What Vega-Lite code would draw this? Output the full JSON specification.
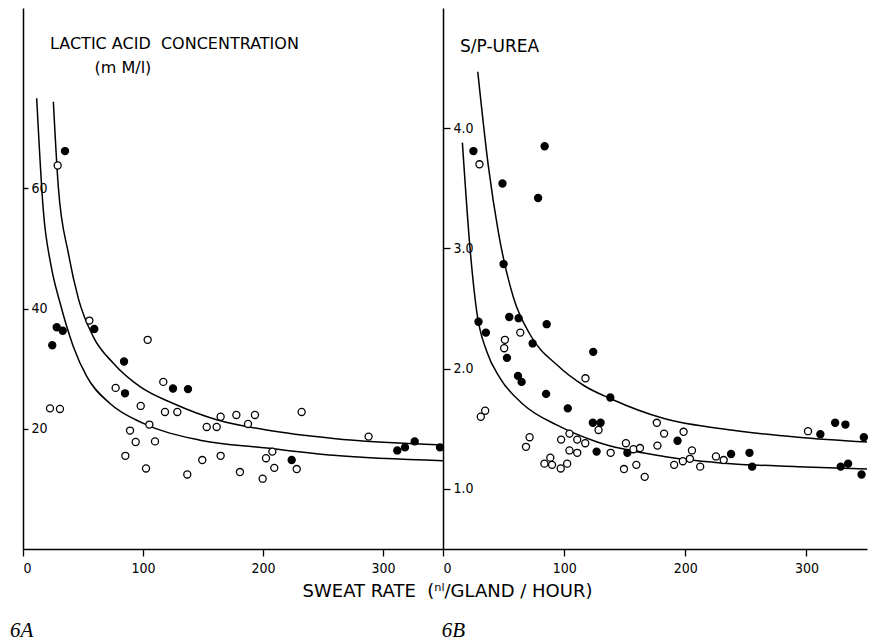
{
  "$schema": "https://vega.github.io/schema/vega-lite/v6.json",
  "background": "white",
  "padding": {"left": 10, "top": 8, "right": 0, "bottom": 0},
  "spacing": 0,
  "bounds": "flush",
  "config": {
    "view": {"stroke": null},
    "font": "DejaVu Sans",
    "axis": {
      "grid": false,
      "domainColor": "black",
      "domainWidth": 1.5,
      "tickColor": "black",
      "tickWidth": 1.3,
      "labelColor": "black",
      "labelFont": "DejaVu Sans Condensed, DejaVu Sans",
      "labelFontSize": 14,
      "titleColor": "black"
    }
  },
  "datasets": {
    "pointsA": [
      {"rate": 35, "value": 66.2, "type": "filled"},
      {"rate": 28.1, "value": 36.9, "type": "filled"},
      {"rate": 33.1, "value": 36.3, "type": "filled"},
      {"rate": 24.4, "value": 33.9, "type": "filled"},
      {"rate": 59.4, "value": 36.6, "type": "filled"},
      {"rate": 84.2, "value": 31.2, "type": "filled"},
      {"rate": 85, "value": 25.9, "type": "filled"},
      {"rate": 125, "value": 26.7, "type": "filled"},
      {"rate": 137.5, "value": 26.6, "type": "filled"},
      {"rate": 223.9, "value": 14.8, "type": "filled"},
      {"rate": 311.9, "value": 16.4, "type": "filled"},
      {"rate": 318.3, "value": 16.9, "type": "filled"},
      {"rate": 326.4, "value": 17.9, "type": "filled"},
      {"rate": 347.5, "value": 16.9, "type": "filled"},
      {"rate": 28.9, "value": 63.8, "type": "open"},
      {"rate": 22.5, "value": 23.4, "type": "open"},
      {"rate": 30.8, "value": 23.3, "type": "open"},
      {"rate": 55.3, "value": 38.0, "type": "open"},
      {"rate": 77.2, "value": 26.8, "type": "open"},
      {"rate": 103.9, "value": 34.8, "type": "open"},
      {"rate": 98.1, "value": 23.8, "type": "open"},
      {"rate": 89.2, "value": 19.7, "type": "open"},
      {"rate": 85.3, "value": 15.5, "type": "open"},
      {"rate": 93.9, "value": 17.8, "type": "open"},
      {"rate": 105.3, "value": 20.7, "type": "open"},
      {"rate": 102.5, "value": 13.4, "type": "open"},
      {"rate": 110, "value": 17.9, "type": "open"},
      {"rate": 116.9, "value": 27.8, "type": "open"},
      {"rate": 118.3, "value": 22.8, "type": "open"},
      {"rate": 128.6, "value": 22.8, "type": "open"},
      {"rate": 136.9, "value": 12.4, "type": "open"},
      {"rate": 149.4, "value": 14.8, "type": "open"},
      {"rate": 153.1, "value": 20.3, "type": "open"},
      {"rate": 161.4, "value": 20.3, "type": "open"},
      {"rate": 164.7, "value": 22.0, "type": "open"},
      {"rate": 164.7, "value": 15.5, "type": "open"},
      {"rate": 177.8, "value": 22.3, "type": "open"},
      {"rate": 180.8, "value": 12.8, "type": "open"},
      {"rate": 187.5, "value": 20.8, "type": "open"},
      {"rate": 193.3, "value": 22.3, "type": "open"},
      {"rate": 199.7, "value": 11.7, "type": "open"},
      {"rate": 202.5, "value": 15.1, "type": "open"},
      {"rate": 207.8, "value": 16.2, "type": "open"},
      {"rate": 209.4, "value": 13.5, "type": "open"},
      {"rate": 228.1, "value": 13.3, "type": "open"},
      {"rate": 232.2, "value": 22.8, "type": "open"},
      {"rate": 288, "value": 18.7, "type": "open"}
    ],
    "curvesA": [
      {"rate": 25.3, "value": 74.4, "curve": "upper"},
      {"rate": 29.4, "value": 60.3, "curve": "upper"},
      {"rate": 37.8, "value": 49.2, "curve": "upper"},
      {"rate": 46.1, "value": 41.7, "curve": "upper"},
      {"rate": 58.6, "value": 35.3, "curve": "upper"},
      {"rate": 75.3, "value": 30.9, "curve": "upper"},
      {"rate": 97.5, "value": 27.0, "curve": "upper"},
      {"rate": 125.3, "value": 24.2, "curve": "upper"},
      {"rate": 161.4, "value": 21.5, "curve": "upper"},
      {"rate": 203, "value": 19.8, "curve": "upper"},
      {"rate": 258.6, "value": 18.4, "curve": "upper"},
      {"rate": 350, "value": 17.3, "curve": "upper"},
      {"rate": 11.4, "value": 75.0, "curve": "lower"},
      {"rate": 16.9, "value": 56.4, "curve": "lower"},
      {"rate": 23.5, "value": 47.0, "curve": "lower"},
      {"rate": 30.8, "value": 41.0, "curve": "lower"},
      {"rate": 41.9, "value": 33.7, "curve": "lower"},
      {"rate": 53.1, "value": 28.7, "curve": "lower"},
      {"rate": 72.5, "value": 24.2, "curve": "lower"},
      {"rate": 100.3, "value": 20.9, "curve": "lower"},
      {"rate": 147.5, "value": 18.1, "curve": "lower"},
      {"rate": 203, "value": 16.8, "curve": "lower"},
      {"rate": 258.6, "value": 15.6, "curve": "lower"},
      {"rate": 350, "value": 14.7, "curve": "lower"}
    ],
    "pointsB": [
      {"rate": 25.1, "value": 3.81, "type": "filled"},
      {"rate": 49.1, "value": 3.54, "type": "filled"},
      {"rate": 78.5, "value": 3.42, "type": "filled"},
      {"rate": 83.9, "value": 3.85, "type": "filled"},
      {"rate": 50.0, "value": 2.87, "type": "filled"},
      {"rate": 29.3, "value": 2.39, "type": "filled"},
      {"rate": 35.4, "value": 2.30, "type": "filled"},
      {"rate": 54.7, "value": 2.43, "type": "filled"},
      {"rate": 62.4, "value": 2.42, "type": "filled"},
      {"rate": 85.6, "value": 2.37, "type": "filled"},
      {"rate": 74.0, "value": 2.21, "type": "filled"},
      {"rate": 124.0, "value": 2.14, "type": "filled"},
      {"rate": 52.8, "value": 2.09, "type": "filled"},
      {"rate": 61.9, "value": 1.94, "type": "filled"},
      {"rate": 64.9, "value": 1.89, "type": "filled"},
      {"rate": 85.1, "value": 1.79, "type": "filled"},
      {"rate": 138.1, "value": 1.76, "type": "filled"},
      {"rate": 103.0, "value": 1.67, "type": "filled"},
      {"rate": 123.7, "value": 1.55, "type": "filled"},
      {"rate": 130.1, "value": 1.55, "type": "filled"},
      {"rate": 126.8, "value": 1.31, "type": "filled"},
      {"rate": 152.2, "value": 1.30, "type": "filled"},
      {"rate": 193.6, "value": 1.40, "type": "filled"},
      {"rate": 237.8, "value": 1.29, "type": "filled"},
      {"rate": 253, "value": 1.30, "type": "filled"},
      {"rate": 255.2, "value": 1.185, "type": "filled"},
      {"rate": 311.5, "value": 1.455, "type": "filled"},
      {"rate": 323.7, "value": 1.55, "type": "filled"},
      {"rate": 332.2, "value": 1.535, "type": "filled"},
      {"rate": 347.4, "value": 1.43, "type": "filled"},
      {"rate": 328.3, "value": 1.185, "type": "filled"},
      {"rate": 334.4, "value": 1.21, "type": "filled"},
      {"rate": 345.5, "value": 1.12, "type": "filled"},
      {"rate": 30.1, "value": 3.70, "type": "open"},
      {"rate": 31.2, "value": 1.60, "type": "open"},
      {"rate": 34.8, "value": 1.65, "type": "open"},
      {"rate": 63.8, "value": 2.30, "type": "open"},
      {"rate": 51.1, "value": 2.24, "type": "open"},
      {"rate": 50.5, "value": 2.17, "type": "open"},
      {"rate": 117.6, "value": 1.92, "type": "open"},
      {"rate": 71.5, "value": 1.43, "type": "open"},
      {"rate": 68.5, "value": 1.35, "type": "open"},
      {"rate": 97.5, "value": 1.41, "type": "open"},
      {"rate": 104.4, "value": 1.46, "type": "open"},
      {"rate": 104.4, "value": 1.32, "type": "open"},
      {"rate": 110.8, "value": 1.41, "type": "open"},
      {"rate": 110.8, "value": 1.30, "type": "open"},
      {"rate": 117.4, "value": 1.38, "type": "open"},
      {"rate": 128.4, "value": 1.49, "type": "open"},
      {"rate": 138.4, "value": 1.30, "type": "open"},
      {"rate": 83.7, "value": 1.21, "type": "open"},
      {"rate": 88.6, "value": 1.26, "type": "open"},
      {"rate": 90.0, "value": 1.20, "type": "open"},
      {"rate": 97.2, "value": 1.17, "type": "open"},
      {"rate": 102.5, "value": 1.21, "type": "open"},
      {"rate": 149.4, "value": 1.165, "type": "open"},
      {"rate": 151.0, "value": 1.38, "type": "open"},
      {"rate": 157.2, "value": 1.33, "type": "open"},
      {"rate": 159.6, "value": 1.20, "type": "open"},
      {"rate": 162.6, "value": 1.34, "type": "open"},
      {"rate": 166.5, "value": 1.10, "type": "open"},
      {"rate": 176.5, "value": 1.55, "type": "open"},
      {"rate": 177.0, "value": 1.36, "type": "open"},
      {"rate": 182.5, "value": 1.46, "type": "open"},
      {"rate": 190.8, "value": 1.20, "type": "open"},
      {"rate": 198.0, "value": 1.23, "type": "open"},
      {"rate": 198.6, "value": 1.475, "type": "open"},
      {"rate": 203.8, "value": 1.25, "type": "open"},
      {"rate": 205.5, "value": 1.32, "type": "open"},
      {"rate": 212.3, "value": 1.185, "type": "open"},
      {"rate": 225.3, "value": 1.27, "type": "open"},
      {"rate": 231.7, "value": 1.24, "type": "open"},
      {"rate": 301.3, "value": 1.48, "type": "open"}
    ],
    "curvesB": [
      {"rate": 28.7, "value": 4.47, "curve": "upper"},
      {"rate": 37.5, "value": 3.68, "curve": "upper"},
      {"rate": 45.8, "value": 3.13, "curve": "upper"},
      {"rate": 58.2, "value": 2.59, "curve": "upper"},
      {"rate": 72.1, "value": 2.28, "curve": "upper"},
      {"rate": 94.2, "value": 2.03, "curve": "upper"},
      {"rate": 116.2, "value": 1.86, "curve": "upper"},
      {"rate": 138.4, "value": 1.75, "curve": "upper"},
      {"rate": 182.5, "value": 1.585, "curve": "upper"},
      {"rate": 237.8, "value": 1.49, "curve": "upper"},
      {"rate": 293, "value": 1.43, "curve": "upper"},
      {"rate": 350, "value": 1.39, "curve": "upper"},
      {"rate": 16.0, "value": 3.88, "curve": "lower"},
      {"rate": 22.4, "value": 2.99, "curve": "lower"},
      {"rate": 27.9, "value": 2.47, "curve": "lower"},
      {"rate": 36.2, "value": 2.14, "curve": "lower"},
      {"rate": 47.2, "value": 1.92, "curve": "lower"},
      {"rate": 66.5, "value": 1.70, "curve": "lower"},
      {"rate": 94.2, "value": 1.53, "curve": "lower"},
      {"rate": 127.3, "value": 1.39, "curve": "lower"},
      {"rate": 182.5, "value": 1.27, "curve": "lower"},
      {"rate": 237.8, "value": 1.21, "curve": "lower"},
      {"rate": 293, "value": 1.185, "curve": "lower"},
      {"rate": 350, "value": 1.165, "curve": "lower"}
    ]
  },
  "hconcat": [
    {
      "width": 420,
      "height": 541,
      "layer": [
        {
          "data": {"name": "curvesA"},
          "mark": {"type": "line", "color": "black", "strokeWidth": 1.5, "interpolate": "monotone"},
          "encoding": {
            "x": {
              "field": "rate", "type": "quantitative",
              "scale": {"domain": [0, 350], "nice": false, "zero": false},
              "axis": {
                "values": [0, 100, 200, 300],
                "tickSize": 7,
                "labelPadding": 5,
                "title": "SWEAT RATE\u00a0 (ⁿˡ/GLAND / HOUR)",
                "titleFont": "DejaVu Sans",
                "titleFontSize": 18,
                "titleFontWeight": "normal",
                "titleX": 424,
                "titleY": 47,
                "titleAlign": "center",
                "titleBaseline": "alphabetic"
              }
            },
            "y": {
              "field": "value", "type": "quantitative",
              "scale": {"domain": [0, 90], "nice": false, "zero": false},
              "axis": {
                "values": [20, 40, 60],
                "tickSize": -5,
                "labelAlign": "left",
                "labelPadding": -3,
                "title": null
              }
            },
            "detail": {"field": "curve", "type": "nominal"}
          }
        },
        {
          "data": {"name": "pointsA"},
          "mark": {"type": "point", "shape": "circle", "filled": true, "stroke": "black", "strokeWidth": 1.3, "size": 50, "opacity": 1},
          "encoding": {
            "x": {"field": "rate", "type": "quantitative"},
            "y": {"field": "value", "type": "quantitative"},
            "fill": {"field": "type", "type": "nominal", "scale": {"domain": ["open", "filled"], "range": ["white", "black"]}, "legend": null}
          }
        },
        {
          "data": {"values": [{}]},
          "mark": {"type": "text", "text": "LACTIC ACID\u00a0 CONCENTRATION", "align": "left", "baseline": "alphabetic", "fontSize": 16, "font": "DejaVu Sans", "color": "black"},
          "encoding": {
            "x": {"datum": 22.5, "type": "quantitative"},
            "y": {"datum": 83.2, "type": "quantitative"}
          }
        },
        {
          "data": {"values": [{}]},
          "mark": {"type": "text", "text": "(m M/l)", "align": "center", "baseline": "alphabetic", "fontSize": 16, "font": "DejaVu Sans", "color": "black"},
          "encoding": {
            "x": {"datum": 83.3, "type": "quantitative"},
            "y": {"datum": 79.2, "type": "quantitative"}
          }
        },
        {
          "data": {"values": [{}]},
          "mark": {"type": "text", "text": "6A", "align": "left", "baseline": "alphabetic", "fontSize": 21, "font": "Liberation Serif", "fontStyle": "italic", "color": "black"},
          "encoding": {
            "x": {"datum": -10.8, "type": "quantitative"},
            "y": {"datum": -14.6, "type": "quantitative"}
          }
        }
      ]
    },
    {
      "width": 424,
      "height": 541,
      "layer": [
        {
          "data": {"name": "curvesB"},
          "mark": {"type": "line", "color": "black", "strokeWidth": 1.5, "interpolate": "monotone"},
          "encoding": {
            "x": {
              "field": "rate", "type": "quantitative",
              "scale": {"domain": [0, 350], "nice": false, "zero": false},
              "axis": {
                "values": [0, 100, 200, 300],
                "tickSize": 7,
                "labelPadding": 5,
                "title": null
              }
            },
            "y": {
              "field": "value", "type": "quantitative",
              "scale": {"domain": [0.5, 5.0], "nice": false, "zero": false},
              "axis": {
                "values": [1, 2, 3, 4],
                "format": ".1f",
                "tickSize": -7,
                "labelAlign": "left",
                "labelPadding": -3,
                "title": null
              }
            },
            "detail": {"field": "curve", "type": "nominal"}
          }
        },
        {
          "data": {"name": "pointsB"},
          "mark": {"type": "point", "shape": "circle", "filled": true, "stroke": "black", "strokeWidth": 1.3, "size": 50, "opacity": 1},
          "encoding": {
            "x": {"field": "rate", "type": "quantitative"},
            "y": {"field": "value", "type": "quantitative"},
            "fill": {"field": "type", "type": "nominal", "scale": {"domain": ["open", "filled"], "range": ["white", "black"]}, "legend": null}
          }
        },
        {
          "data": {"values": [{}]},
          "mark": {"type": "text", "text": "S/P-UREA", "align": "left", "baseline": "alphabetic", "fontSize": 17, "font": "DejaVu Sans", "color": "black"},
          "encoding": {
            "x": {"datum": 14.1, "type": "quantitative"},
            "y": {"datum": 4.63, "type": "quantitative"}
          }
        },
        {
          "data": {"values": [{}]},
          "mark": {"type": "text", "text": "6B", "align": "left", "baseline": "alphabetic", "fontSize": 21, "font": "Liberation Serif", "fontStyle": "italic", "color": "black"},
          "encoding": {
            "x": {"datum": -1, "type": "quantitative"},
            "y": {"datum": -0.235, "type": "quantitative"}
          }
        }
      ]
    }
  ]
}
